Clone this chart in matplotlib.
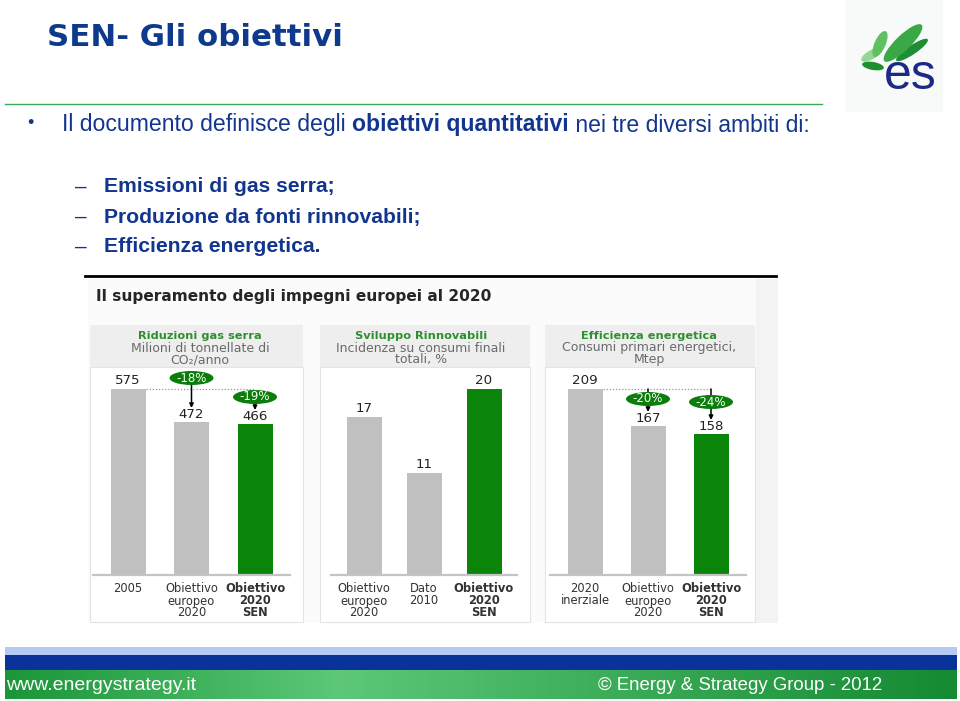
import matplotlib
matplotlib.use("Agg")
import matplotlib.pyplot as plt
import numpy as np
from matplotlib.patches import Rectangle, Ellipse

# ---------------- data ----------------
panel_titles = ["Riduzioni gas serra", "Sviluppo Rinnovabili", "Efficienza energetica"]
panel_subtitles = [["Milioni di tonnellate di", "CO\u2082/anno"],
                   ["Incidenza su consumi finali", "totali, %"],
                   ["Consumi primari energetici,", "Mtep"]]
emissions_cats = ["2005", "Obiettivo\neuropeo\n2020", "Obiettivo\n2020\nSEN"]
emissions_vals = [575, 472, 466]
renew_cats = ["Obiettivo\neuropeo\n2020", "Dato\n2010", "Obiettivo\n2020\nSEN"]
renew_vals = [17, 11, 20]
eff_cats = ["2020\ninerziale", "Obiettivo\neuropeo\n2020", "Obiettivo\n2020\nSEN"]
eff_vals = [209, 167, 158]
emissions_cuts = ["-18%", "-19%"]
eff_cuts = ["-20%", "-24%"]
bar_colors = ["#c0c0c0", "#c0c0c0", "#0a850a"]

FONT = ["Liberation Sans", "DejaVu Sans"]
CHART = ["DejaVu Sans"]
plt.rcParams["font.family"] = FONT

W, H = 960, 701
fig = plt.figure(figsize=(9.6, 7.01), dpi=100)
fig.patch.set_facecolor("white")
bg = fig.add_axes([0, 0, 1, 1], zorder=0)
bg.set_xlim(0, W)
bg.set_ylim(H, 0)
bg.axis("off")

NAVY = "#12368f"

# ---------------- header ----------------
bg.text(47, 38, "SEN- Gli obiettivi", fontsize=22.2, fontweight="bold", color="#0d3a8c",
        family=["DejaVu Sans"], ha="left", va="center")
bg.plot([5, 822], [104, 104], color="#3aa85a", lw=1.0)

# logo
bg.add_patch(Rectangle((845, 0), 98, 112, fc="#f8fafa", ec="none"))
petals = [  # (cx, cy, w, h, angle, color)
    (873, 66, 22, 8, 10, "#1f8f30"),
    (871, 55, 22, 9, -30, "#92d892"),
    (880, 44, 28, 11, -66, "#5ec05e"),
    (912, 50, 38, 9, -34, "#1e8e34"),
    (903, 43, 52, 15, -44, "#3aa845"),
]
for cx, cy, w, h, a, c in petals:
    bg.add_patch(Ellipse((cx, cy), w, h, angle=a, fc=c, ec="none"))
bg.text(910, 76, "es", fontsize=36, color="#1c2a85", ha="center", va="center",
        family=["Liberation Sans"])

# bullet line with mixed weights
bg.text(30, 124, "\u2022", fontsize=13, color=NAVY, ha="center", va="center")
parts = [("Il documento definisce degli ", "normal"),
         ("obiettivi quantitativi", "bold"),
         (" nei tre diversi ambiti di:", "normal")]
fig.canvas.draw()
r = fig.canvas.get_renderer()
x = 62
for s, wgt in parts:
    t = bg.text(x, 125, s, fontsize=16.6, fontweight=wgt, color=NAVY, ha="left", va="center")
    bb = t.get_window_extent(renderer=r)
    x += bb.width

items = ["Emissioni di gas serra;", "Produzione da fonti rinnovabili;", "Efficienza energetica."]
for k, s in enumerate(items):
    y = 187 + 30 * k
    bg.text(75, y, "\u2013", fontsize=15, color=NAVY, ha="left", va="center")
    bg.text(104, y, s, fontsize=15.2, fontweight="bold", color=NAVY, ha="left", va="center")

bg.plot([85, 776], [276, 276], color="black", lw=2)

# ---------------- chart picture ----------------
bg.add_patch(Rectangle((88, 279), 690, 344, fc="#fbfbfb", ec="none"))
bg.add_patch(Rectangle((756, 279), 22, 344, fc="#f3f3f3", ec="none"))
bg.text(96, 297, "Il superamento degli impegni europei al 2020", fontsize=11.1,
        fontweight="bold", color="#262626", ha="left", va="center", family=CHART)

panel_boxes = [(90, 303), (320, 530), (545, 755)]
panel_cx = [200, 421, 649]
for (l, rgt), cx, ti, st in zip(panel_boxes, panel_cx, panel_titles, panel_subtitles):
    bg.add_patch(Rectangle((l, 325), rgt - l, 42, fc="#eeeeee", ec="none"))
    bg.add_patch(Rectangle((l, 367), rgt - l, 255, fc="white", ec="#e4e4e4", lw=0.8))
    bg.text(cx, 336, ti, fontsize=8.2, fontweight="bold", color="#2e8f2e", ha="center",
            va="center", family=CHART)
    for j, line in enumerate(st):
        bg.text(cx, 348 + 12 * j, line, fontsize=9.0, color="#6a6a6a", ha="center",
                va="center", family=CHART)

panels = [
    (emissions_vals, emissions_cats, [128, 192, 255]),
    (renew_vals, renew_cats, [364, 424, 484]),
    (eff_vals, eff_cats, [585, 648, 711]),
]
BASE, TOP, MAXTOP = 575, 365, 389
K = 0.55
axes = []
for vals, cats, centers in panels:
    sp = (centers[2] - centers[0]) / 2.0
    left = centers[0] - K * sp
    width = (2 + 2 * K) * sp
    ax = fig.add_axes([left / W, 1 - BASE / H, width / W, (BASE - TOP) / H], zorder=2)
    ax.patch.set_alpha(0)
    ytop = max(vals) * (BASE - TOP) / (BASE - MAXTOP)
    ax.set_xlim(-K, 2 + K)
    ax.set_ylim(0, ytop)
    bw = 35.0 / sp
    ax.bar(range(3), vals, width=bw, color=bar_colors, zorder=2)
    for sname in ["top", "left", "right"]:
        ax.spines[sname].set_visible(False)
    ax.spines["bottom"].set_color("#c4c4c4")
    ax.spines["bottom"].set_linewidth(1.6)
    ax.set_yticks([])
    ax.set_xticks([])
    for i, c in enumerate(cats):
        for j, line in enumerate(c.split("\n")):
            ax.annotate(line, (i, 0), xytext=(0, -14 - 12 * j), textcoords="offset pixels",
                        ha="center", va="center", fontsize=8.3, color="#333333",
                        fontweight="bold" if i == 2 else "normal", family=CHART,
                        annotation_clip=False)
    for i, v in enumerate(vals):
        ax.annotate(str(v), (i, v), xytext=(0, 8), textcoords="offset pixels",
                    ha="center", va="center", fontsize=9.6, color="#222222", family=CHART)
    ppy = (BASE - TOP) / ytop
    axes.append((ax, vals, sp, ppy, bw))


def add_cut(ax, vals, sp, ppy, i, label, dy_px):
    ref = vals[0]
    y = ref + dy_px / ppy
    ax.add_patch(Ellipse((i, y), 44.0 / sp, 14.0 / ppy, fc="#0b7d0b", ec="none",
                         zorder=6, clip_on=False))
    ax.text(i, y, label, color="white", fontsize=8.5, ha="center", va="center",
            zorder=7, clip_on=False, family=CHART)


def add_arrow(ax, vals, ppy, i, y1_px, y2_px, head=True):
    ref = vals[0]
    ax.annotate("", xy=(i, ref + y2_px / ppy), xytext=(i, ref + y1_px / ppy),
                arrowprops=dict(arrowstyle="-|>" if head else "-", color="black", lw=1.1,
                                mutation_scale=6, shrinkA=0, shrinkB=0),
                annotation_clip=False, zorder=5)


# emissions annotations
ax, vals, sp, ppy, bw = axes[0]
ax.plot([bw / 2, 2], [vals[0], vals[0]], ls=(0, (1, 1.5)), color="#999999", lw=0.9, zorder=3)
add_arrow(ax, vals, ppy, 1, 4, -19)
add_cut(ax, vals, sp, ppy, 1, emissions_cuts[0], 11)
add_cut(ax, vals, sp, ppy, 2, emissions_cuts[1], -8)
add_arrow(ax, vals, ppy, 2, -14, -21)

# efficiency annotations
ax, vals, sp, ppy, bw = axes[2]
ax.plot([bw / 2, 2], [vals[0], vals[0]], ls=(0, (1, 1.5)), color="#999999", lw=0.9, zorder=3)
add_arrow(ax, vals, ppy, 1, 0, -4, head=False)
add_cut(ax, vals, sp, ppy, 1, eff_cuts[0], -10)
add_arrow(ax, vals, ppy, 1, -16, -23)
add_arrow(ax, vals, ppy, 2, 0, -7, head=False)
add_cut(ax, vals, sp, ppy, 2, eff_cuts[1], -13)
add_arrow(ax, vals, ppy, 2, -19, -31)

# ---------------- footer ----------------
bg.add_patch(Rectangle((5, 647), 952, 8, fc="#b5cbf5", ec="none"))
bg.add_patch(Rectangle((5, 655), 952, 15, fc="#0a3399", ec="none"))
xs = np.linspace(0, 1, 400)
g0 = np.array([0x1a, 0x96, 0x38]) / 255.0
g1 = np.array([0x5c, 0xc8, 0x78]) / 255.0
g2 = np.array([0x14, 0x8a, 0x32]) / 255.0
wts = np.interp(xs, [0, 0.35, 1.0], [0, 1, 0])
cols = np.where(xs[:, None] < 0.35,
                g0 + (g1 - g0) * wts[:, None],
                g2 + (g1 - g2) * wts[:, None])
grad = np.tile(cols[None, :, :], (10, 1, 1))
bg.imshow(grad, extent=(5, 957, 699, 670), aspect="auto", zorder=1)
bg.set_xlim(0, W)
bg.set_ylim(H, 0)
FOOT = ["Liberation Sans Narrow", "Liberation Sans", "DejaVu Sans"]
bg.text(6, 685, "www.energystrategy.it", fontsize=14, color="white", family=FOOT,
        ha="left", va="center", zorder=3)
bg.text(598, 685, "\u00a9 Energy & Strategy Group - 2012", fontsize=13.4, color="white",
        family=FOOT, ha="left", va="center", zorder=3)

fig.savefig("out.png", dpi=100)
